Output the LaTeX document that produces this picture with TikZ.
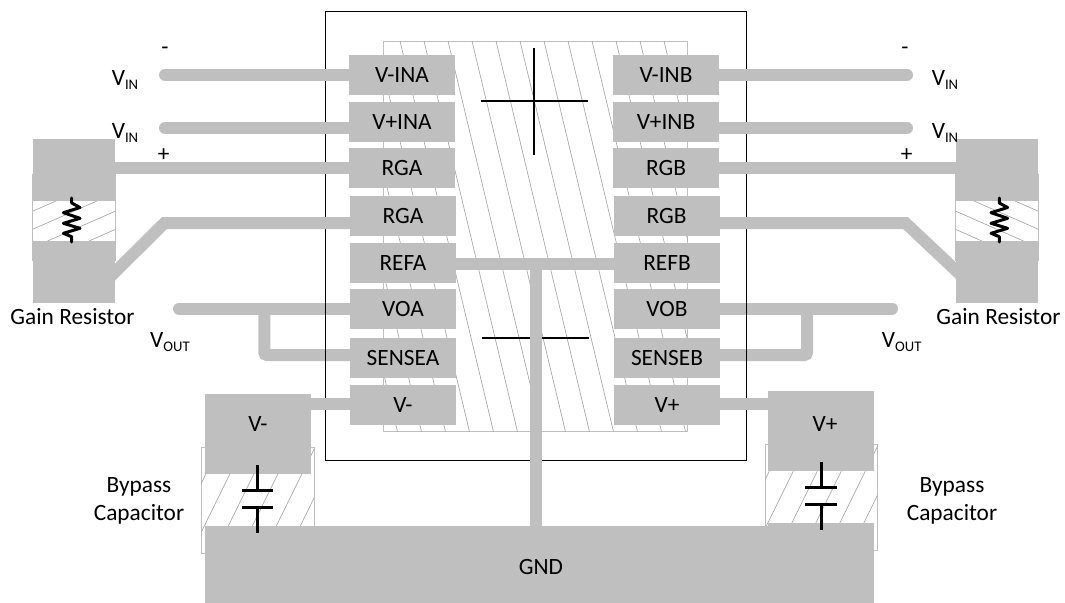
\documentclass[tikz,border=0pt]{standalone}
\usepackage{fontspec}
\setmainfont{Carlito}
\definecolor{padgray}{HTML}{BFBFBF}
\definecolor{hatchgray}{HTML}{A6A6A6}
\newcommand{\subtxt}[1]{\raisebox{-2.5pt}{\fontsize{11}{11}\selectfont #1}}
\tikzset{
  pad/.style={fill=padgray,inner sep=0pt,outer sep=0pt,minimum width=79.5pt,minimum height=30pt,font=\fontsize{17.5}{21}\selectfont},
  gainpad/.style={fill=padgray,inner sep=0pt,outer sep=0pt,minimum width=61.5pt,minimum height=46.3pt},
  bypasspad/.style={fill=padgray,inner sep=0pt,outer sep=0pt,minimum width=79.5pt,minimum height=59.8pt},
  txt/.style={inner sep=0pt,font=\fontsize{17.5}{21}\selectfont,align=center},
  trace/.style={draw=padgray,line width=9pt},
  hatch/.style={draw=hatchgray,line width=.5pt},
  outline/.style={draw=padgray,line width=.75pt},
  part/.style={draw=black,line width=2.25pt,line cap=butt,line join=round}
}
\begin{document}
\begin{tikzpicture}[x=.75pt,y=-.75pt]
      \useasboundingbox (0,0) rectangle (1065,603);
      % hatched areas
      \draw[outline] (383.5,41) rectangle (687.7,431.7);
      \begin{scope}
        \clip (383.5,41) rectangle (687.7,431.7);
        \draw[hatch] (304,41) to (397.5,431.7);
        \draw[hatch] (328,41) to (421.5,431.7);
        \draw[hatch] (352,41) to (445.5,431.7);
        \draw[hatch] (376,41) to (469.5,431.7);
        \draw[hatch] (400,41) to (493.5,431.7);
        \draw[hatch] (424,41) to (517.5,431.7);
        \draw[hatch] (448,41) to (541.5,431.7);
        \draw[hatch] (472,41) to (565.5,431.7);
        \draw[hatch] (496,41) to (589.5,431.7);
        \draw[hatch] (520,41) to (613.5,431.7);
        \draw[hatch] (544,41) to (637.5,431.7);
        \draw[hatch] (568,41) to (661.5,431.7);
        \draw[hatch] (592,41) to (685.5,431.7);
        \draw[hatch] (616,41) to (709.5,431.7);
        \draw[hatch] (640,41) to (733.5,431.7);
        \draw[hatch] (664,41) to (757.5,431.7);
      \end{scope}
      \draw[outline] (32.5,174) rectangle (115.5,260.7);
      \draw[outline] (955.5,174) rectangle (1038.5,260.7);
      \begin{scope}
        \clip (33,200) rectangle (115,241);
        \draw[hatch] (-35,241) to (56.6,200.7);
        \draw[hatch] (6,241) to (97.6,200.7);
        \draw[hatch] (47.5,241) to (139.1,200.7);
        \draw[hatch] (89,241) to (180.6,200.7);
      \end{scope}
      \begin{scope}
        \clip (956,200) rectangle (1038,241);
        \draw[hatch] (1106,241) to (1014.4,200.7);
        \draw[hatch] (1065,241) to (973.4,200.7);
        \draw[hatch] (1023.5,241) to (931.9,200.7);
        \draw[hatch] (982,241) to (890.4,200.7);
      \end{scope}
      \draw[outline] (201.3,447.3) rectangle (314,553);
      \draw[outline] (765,444.3) rectangle (877.3,550);
      \begin{scope}
        \clip (201.3,447.3) rectangle (314,553);
        \draw[hatch] (195,447.3) to (143,553);
        \draw[hatch] (219,447.3) to (167,553);
        \draw[hatch] (243,447.3) to (191,553);
        \draw[hatch] (267,447.3) to (215,553);
        \draw[hatch] (291,447.3) to (239,553);
        \draw[hatch] (315,447.3) to (263,553);
        \draw[hatch] (339,447.3) to (287,553);
      \end{scope}
      \begin{scope}
        \clip (765,444.3) rectangle (877.3,550);
        \draw[hatch] (758.5,444.3) to (706.5,550);
        \draw[hatch] (782.5,444.3) to (730.5,550);
        \draw[hatch] (806.5,444.3) to (754.5,550);
        \draw[hatch] (830.5,444.3) to (778.5,550);
        \draw[hatch] (854.5,444.3) to (802.5,550);
        \draw[hatch] (878.5,444.3) to (826.5,550);
        \draw[hatch] (902.5,444.3) to (850.5,550);
      \end{scope}
      % pads
      \draw
        (402,75) node[pad] (vina){V-INA}
        (402,122) node[pad] (vpina){V+INA}
        (402,168) node[pad] (rga){RGA}
        (403,216) node[pad] (rgaa){RGA}
        (403,263) node[pad] (refa){REFA}
        (403,309) node[pad] (voa){VOA}
        (403,358) node[pad] (sensea){SENSEA}
        (403,405) node[pad] (vm){V-}
        (666,75) node[pad] (vinb){V-INB}
        (666,122) node[pad] (vpinb){V+INB}
        (666,168) node[pad] (rgb){RGB}
        (666.5,216) node[pad] (rgbb){RGB}
        (667,263) node[pad] (refb){REFB}
        (667,309) node[pad] (vob){VOB}
        (667,358) node[pad] (senseb){SENSEB}
        (667,405) node[pad] (vp){V+}
        (74,170) node[gainpad] (gaintl){}
        (74,272) node[gainpad] (gainbl){}
        (997,170) node[gainpad] (gaintr){}
        (997,272) node[gainpad] (gainbr){}
        (258,434) node[bypasspad] (capl){}
        (821,431) node[bypasspad] (capr){};
      \fill[padgray] (205,525.7) rectangle (873.5,603);
      \fill[padgray] (768,523.3) rectangle (873.5,526);
      \node[pad,fill=none] (gnd) at (541,567) {GND};
      % free ends and bends
      \coordinate (vinl) at (165,75);
      \coordinate (vpinl) at (165,128);
      \coordinate (bendl) at (164.5,223);
      \coordinate (startl) at (105,282);
      \coordinate (voutl) at (179,308.5);
      \coordinate (sensel) at (264.3,355);
      \coordinate (vinr) at (907,75);
      \coordinate (vpinr) at (907,128);
      \coordinate (bendr) at (905.5,223);
      \coordinate (startr) at (966,280);
      \coordinate (voutr) at (892,308.5);
      \coordinate (senser) at (807,355);
      \coordinate (gndend) at (535.5,530);
      \coordinate (capla) at (311,403.7);
      \coordinate (capra) at (768,404);
      % traces under the package line
      \begin{scope}[trace]
        \draw[line cap=round] (voutl) to (voa.west |- voutl);
        \draw[rounded corners=2pt] (sensel |- voutl) to (sensel) to (sensea.west |- sensel);
        \draw[line cap=round] (voutr) to (vob.east |- voutr);
        \draw[rounded corners=2pt] (senser |- voutr) to (senser) to (senseb.east |- senser);
      \end{scope}
      % package and die marks
      \draw[line width=.9pt] (325.5,11.5) rectangle (746.7,460.5);
      \begin{scope}[line width=1.5pt]
        \draw (534,48) to (534,155);
        \draw (480.7,101.3) to (588,101.3);
        \draw (481.7,338) to (589,338);
      \end{scope}
      % traces over the package line
      \begin{scope}[trace]
        \draw[line cap=round] (vinl) to (vina.west |- vinl);
        \draw[line cap=round] (vpinl) to (vpina.west |- vpinl);
        \draw (gaintl.east |- rga) to (rga);
        \draw (startl) to (bendl) to (rgaa.west |- bendl);
        \draw (capla) to (vm.west |- capla);
        \draw[line cap=round] (vinr) to (vinb.east |- vinr);
        \draw[line cap=round] (vpinr) to (vpinb.east |- vpinr);
        \draw (gaintr.west |- rgb) to (rgb);
        \draw (startr) to (bendr) to (rgbb.east |- bendr);
        \draw (capra) to (vp.east |- capra);
        \draw (refa.east |- 0,264) to (refb.west |- 0,264);
        \draw (535.5,264) to (gndend);
      \end{scope}
      % gain resistors
      \draw[part,line cap=round] (71.7,198) -- (71.7,203) -- (80,207.5) -- (63.4,212.7) -- (80,218.3) -- (63.4,223.3) -- (80,228.3) -- (63.4,233.3) -- (71.7,236.7) -- (71.7,242);
      \draw[part,line cap=round] (999.3,198) -- (999.3,203) -- (1007.6,207.5) -- (991,212.7) -- (1007.6,218.3) -- (991,223.3) -- (1007.6,228.3) -- (991,233.3) -- (999.3,236.7) -- (999.3,242);
      % bypass capacitors
      \begin{scope}[part]
        \draw (257.7,465) to (257.7,490);
        \draw (242,490) to (273,490);
        \draw (242,507.3) to (273,507.3);
        \draw (257.7,507.3) to (257.7,533);
        \draw (821,461.7) to (821,487);
        \draw (805.3,487) to (837,487);
        \draw (805.3,504) to (837,504);
        \draw (821,504) to (821,530);
      \end{scope}
      % labels
      \draw
        (125,80) node[txt] (vinminl){V\subtxt{IN}}
        (125,133) node[txt] (vinplusl){V\subtxt{IN}}
        (945,80) node[txt] (vinminr){V\subtxt{IN}}
        (945,133) node[txt] (vinplusr){V\subtxt{IN}}
        (165,51) node[txt] (minusl){-}
        (905,51) node[txt] (minusr){-}
        (163.6,155) node[txt] (plusl){+}
        (906.7,155) node[txt] (plusr){+}
        (170,342) node[txt] (voutlabl){V\subtxt{OUT}}
        (901.7,342) node[txt] (voutlabr){V\subtxt{OUT}}
        (72.5,317) node[txt] (gainl){Gain Resistor}
        (998.5,317) node[txt] (gainr){Gain Resistor}
        (139,501) node[txt] (bypassl){Bypass\\Capacitor}
        (952,501) node[txt] (bypassr){Bypass\\Capacitor}
        (258,424) node[txt] (vmlab){V-}
        (825,424) node[txt] (vplab){V+};
    \end{tikzpicture}
\end{document}
